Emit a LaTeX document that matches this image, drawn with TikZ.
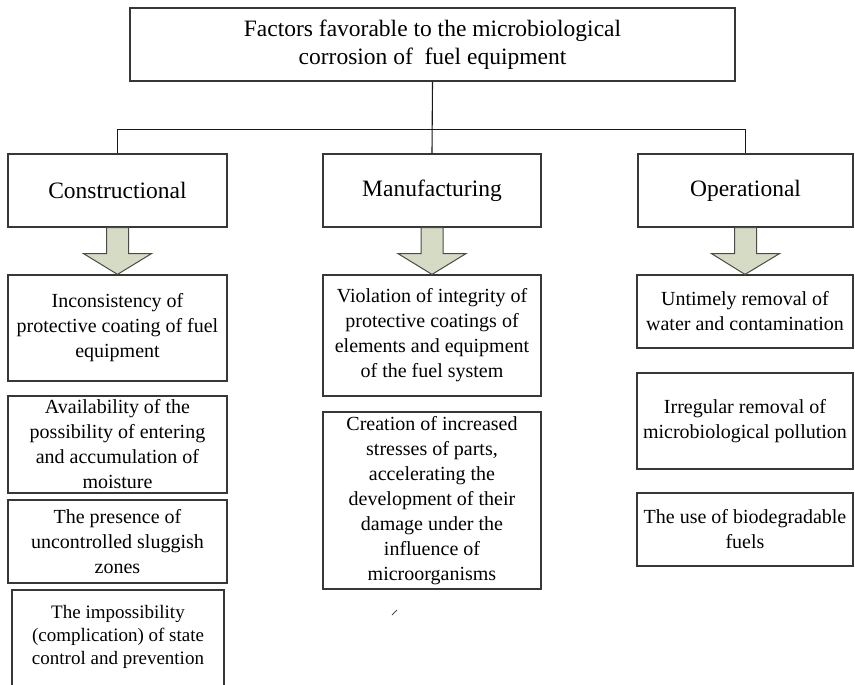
\documentclass[tikz,border=0pt]{standalone}
\usepackage{fontspec}
\setmainfont{Liberation Serif}
\usetikzlibrary{calc}

\definecolor{boxline}{RGB}{55,55,55}
\definecolor{arrowfill}{RGB}{214,219,198}
\definecolor{arrowline}{RGB}{75,75,70}

\tikzset{
  x=1pt, y=-1pt,
  anybox/.style={draw=boxline, line width=1.2pt, fill=white, align=center,
                 inner sep=0pt, text=black},
  titlebox/.style={anybox, font=\fontsize{23.5}{28}\selectfont},
  headbox/.style={anybox, font=\fontsize{23.5}{28}\selectfont, minimum height=73pt},
  leafbox/.style={anybox, font=\fontsize{20}{25}\selectfont},
  conn/.style={draw=black!90, line width=1.1pt},
  blockarr/.style={fill=arrowfill, draw=arrowline, line width=1pt, line join=miter}
}

% broad down-pointing arrow from the bottom of one box to the top of the next
\newcommand{\blockarrow}[2]{%
  \path[blockarr]
    ($(#1.south)+(-11,0)$) -- ($(#1.south)+(11,0)$) --
    ($(#1.south)+(11,26)$) -- ($(#1.south)+(34,26)$) --
    (#2.north) --
    ($(#1.south)+(-34,26)$) -- ($(#1.south)+(-11,26)$) -- cycle;}

\begin{document}
\begin{tikzpicture}
\useasboundingbox (0,0) rectangle (855,685);
\fill[white] (0,0) rectangle (855,685);

% root
\node[titlebox, minimum width=605pt, minimum height=73pt] (top) at (432.5,44.5)
  {Factors favorable to the microbiological\\corrosion of \ fuel equipment};

% three groups
\node[headbox, minimum width=219pt] (h1) at (117.5,190.5) {Constructional};
\node[headbox, minimum width=218pt] (h2) at (432,190.5) {Manufacturing};
\node[headbox, minimum width=215pt] (h3) at (745.5,190.5) {Operational};

% tree connectors
\draw[conn] (top.south) -- (h2.north);
\draw[conn] (h1.north) -- ++(0,-24) -| (h3.north);

% constructional factors
\node[leafbox, minimum width=219pt, minimum height=106pt] (c1) at (117.5,328)
  {Inconsistency of\\protective coating of fuel\\equipment};
\node[leafbox, minimum width=219pt, minimum height=97pt] (c2) at (117.5,444.5)
  {Availability of the\\possibility of entering\\and accumulation of\\moisture};
\node[leafbox, minimum width=219pt, minimum height=83pt] (c3) at (117.5,541.5)
  {The presence of\\uncontrolled sluggish\\zones};
\draw[draw=boxline, line width=1.2pt] (12,590) rectangle (224,700);
\node[align=center, inner sep=0pt, text=black,
      font=\fontsize{19}{23}\selectfont] (c4) at (118,637)
  {The impossibility\\(complication) of state\\control and prevention};

% manufacturing factors
\node[leafbox, minimum width=218pt, minimum height=121pt] (m1) at (432,335.5)
  {Violation of integrity of\\protective coatings of\\elements and equipment\\of the fuel system};
\node[leafbox, minimum width=218pt, minimum height=177pt] (m2) at (432,500.5)
  {Creation of increased\\stresses of parts,\\accelerating the\\development of their\\damage under the\\influence of\\microorganisms};
\coordinate (tickA) at (392,615);
\coordinate (tickB) at (397,610);
\draw[black!70, line width=0.9pt] (tickA) -- (tickB);

% operational factors
\node[leafbox, minimum width=216pt, minimum height=73pt] (o1) at (745,311.5)
  {Untimely removal of\\water and contamination};
\node[leafbox, minimum width=216pt, minimum height=96pt] (o2) at (745,421)
  {Irregular removal of\\microbiological pollution};
\node[leafbox, minimum width=216pt, minimum height=73pt] (o3) at (745,529.5)
  {The use of biodegradable\\fuels};

% block arrows
\blockarrow{h1}{c1}
\blockarrow{h2}{m1}
\blockarrow{h3}{o1}
\end{tikzpicture}
\end{document}
